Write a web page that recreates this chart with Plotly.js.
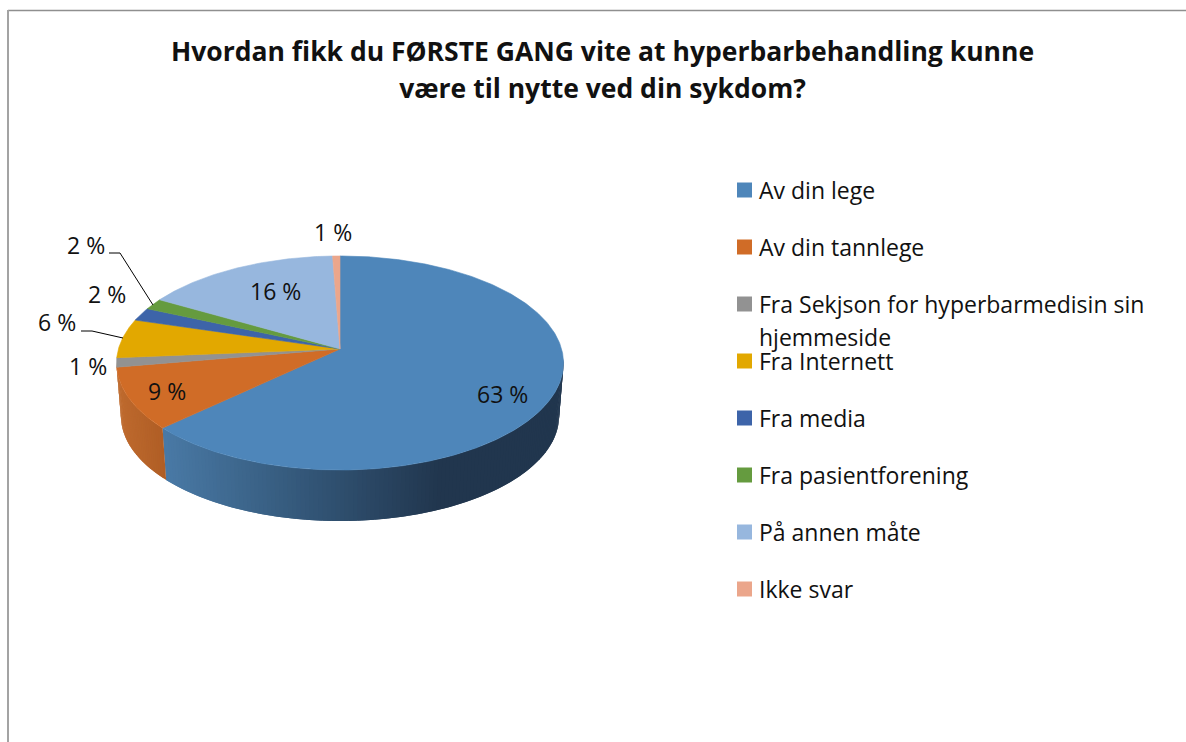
<!DOCTYPE html>
<html>
<head>
<meta charset="utf-8">
<script src="https://cdn.plot.ly/plotly-3.0.1.min.js"></script>
<style>html,body{margin:0;padding:0;background:#fff}#chart{width:1186px;height:742px}</style>
</head>
<body>
<div id="chart"></div>
<script>
// ---- data (slice sizes estimated from the drawn angles; labels show them rounded) ----
const categories = ["Av din lege","Av din tannlege","Fra Sekjson for hyperbarmedisin sin<br>hjemmeside","Fra Internett","Fra media","Fra pasientforening","På annen måte","Ikke svar"];
const values = [63, 9.3, 1.4, 5.9, 2.0, 1.7, 16.1, 0.6];
const colors = ["#4E86BA","#D06C27","#929292","#E2A800","#3D64A9","#659B3F","#97B7DE","#EBA68B"];
const labelX = [502, 167, 88, 57, 107, 86, 275, 333];
const labelY = [394, 391, 366, 322, 294, 245, 291, 232];
const titleText = "Hvordan fikk du FØRSTE GANG vite at hyperbarbehandling kunne<br>være til nytte ved din sykdom?";

// ---- pie projection (axes are 1:1 with the page) ----
const cx = 340, cy = 349, R = 221.6, Q = 105.2, K = 0.1308, depth = 53.4, shrink = 0.98;
function rim(deg, lower) {
  const t = deg * Math.PI / 180, u = Math.sin(t), v = -Math.cos(t), d = 1 - K * v;
  const x = R * u / d, y = Q * v / d;
  return lower ? [cx + x * shrink, cy + depth + y * shrink] : [cx + x, cy + y];
}
function arc(a, b, lower) {
  const pts = [], n = Math.max(2, Math.ceil(Math.abs(b - a) * 2));
  for (let i = 0; i <= n; i++) pts.push(rim(a + (b - a) * i / n, lower));
  return pts;
}
function mix(stops, x) {
  let i = 0;
  while (i < stops.length - 2 && x > stops[i + 1][0]) i++;
  const A = stops[i], B = stops[i + 1], f = Math.min(1, Math.max(0, (x - A[0]) / (B[0] - A[0])));
  return "rgb(" + [1, 2, 3].map(c => Math.round(A[c] + (B[c] - A[c]) * f)).join(",") + ")";
}
const total = values.reduce((a, b) => a + b, 0);
const starts = []; let acc = 0;
values.forEach(v => { starts.push(acc / total * 360); acc += v; });
const ends = values.map((v, i) => starts[i] + v / total * 360);

const traces = [];
function poly(pts, color, name, lineWidth) {
  traces.push({type: "scatter", mode: "lines", x: pts.map(p => p[0]), y: pts.map(p => p[1]),
    fill: "toself", fillcolor: color, line: {color: color, width: lineWidth}, showlegend: false,
    name: name, hoverinfo: "name"});
}
// side wall: blue and orange slices, in narrow shaded strips that overlap the next one
const wallStops = [
  [[165, 73, 121, 165], [300, 52, 88, 122], [440, 33, 54, 78], [570, 33, 54, 78]],
  [[118, 190, 106, 46], [168, 174, 92, 36]]
];
[[95, ends[0], 0], [ends[0], 262.5, 1]].forEach(([a, b, idx]) => {
  const step = 1;
  for (let t = a; t < b; t += step) {
    const e = Math.min(b, t + step + 1);
    const top = arc(t, e, false), low = arc(t, e, true).reverse();
    const mx = rim(t + step / 2, false)[0];
    poly(top.concat(low), mix(wallStops[idx], mx), categories[idx].replace("<br>", " "), 0);
  }
});
// top faces
values.forEach((v, i) => {
  const pts = [[cx, cy]].concat(arc(starts[i], ends[i], false));
  pts.push([cx, cy]);
  poly(pts, colors[i], categories[i].replace("<br>", " ") + ": " + Math.round(v) + " %", 0.6);
});

// legend swatches
const legendX = 744.5, legendY0 = 190, legendGap = 57;
traces.push({type: "scatter", mode: "markers", hoverinfo: "skip", showlegend: false,
  x: categories.map(() => legendX), y: categories.map((_, i) => legendY0 + i * legendGap),
  marker: {symbol: "square", size: 15, color: colors, line: {width: 0}}});

const font = {family: "'Open Sans', sans-serif", size: 23, color: "#111111"};
const annotations = [];
values.forEach((v, i) => annotations.push({x: labelX[i], y: labelY[i], xref: "x", yref: "y",
  text: Math.round(v) + " %", showarrow: false, font: font, xanchor: "center", yanchor: "middle"}));
categories.forEach((c, i) => c.split("<br>").forEach((line, j) => annotations.push({
  x: 757, y: legendY0 + i * legendGap + j * 33, xref: "x", yref: "y", text: line, showarrow: false,
  font: font, xanchor: "left", yanchor: "middle"})));

const lineStyle = {color: "#000000", width: 1};
const shapes = [
  {type: "line", xref: "x", yref: "y", x0: 8, x1: 1186, y0: 10.5, y1: 10.5, line: {color: "#8f8f8f", width: 1.5}},
  {type: "line", xref: "x", yref: "y", x0: 8, x1: 8, y0: 10, y1: 742, line: {color: "#a3a3a3", width: 2}},
  {type: "path", xref: "x", yref: "y", path: "M109,253 L120,253 L153,305", line: lineStyle},
  {type: "path", xref: "x", yref: "y", path: "M81,331 L92,331 L123,338", line: lineStyle}
];

Plotly.newPlot("chart", traces, {
  width: 1186, height: 742, margin: {l: 0, r: 0, t: 0, b: 0, pad: 0},
  paper_bgcolor: "#ffffff", plot_bgcolor: "#ffffff", showlegend: false,
  title: {text: titleText.split("<br>").map(s => '<span style="font-size:26.5px">' + s + "</span>").join("<br>"),
    font: {family: "'Open Sans', sans-serif", size: 28.5, color: "#111111", weight: 700},
    x: 602.5 / 1186, xanchor: "center", y: 1 - 61 / 742, yanchor: "top", automargin: false},
  xaxis: {range: [0, 1186], visible: false, fixedrange: true},
  yaxis: {range: [742, 0], visible: false, fixedrange: true},
  annotations: annotations, shapes: shapes
}, {displayModeBar: false});
</script>
</body>
</html>
